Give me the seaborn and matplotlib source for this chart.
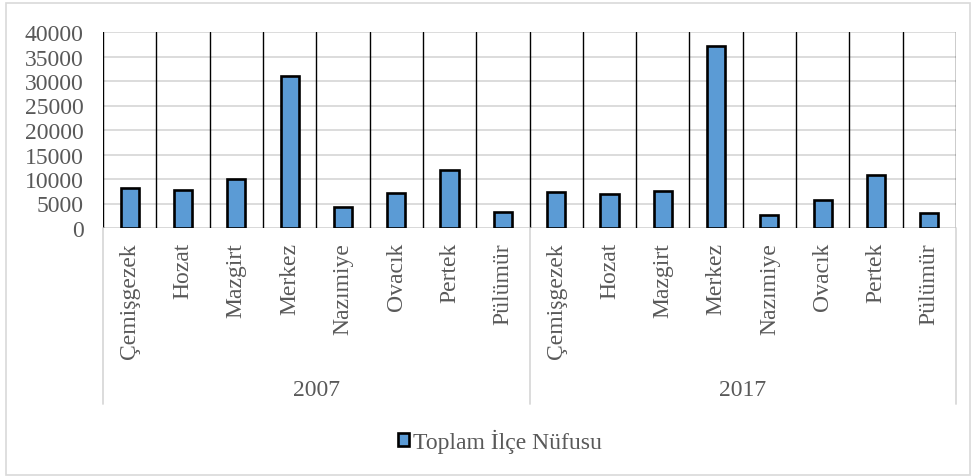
import matplotlib
matplotlib.use("Agg")
import matplotlib.pyplot as plt
import matplotlib.patches as mpatches
import seaborn as sns
import pandas as pd

districts = ["Çemişgezek", "Hozat", "Mazgirt", "Merkez", "Nazımiye", "Ovacık", "Pertek", "Pülümür"]
years = ["2007", "2017"]
pop_2007 = [8100, 7750, 9950, 31100, 4350, 7070, 11770, 3260]
pop_2017 = [7420, 6940, 7620, 37070, 2720, 5780, 10810, 2990]
y_ticks = [0, 5000, 10000, 15000, 20000, 25000, 30000, 35000, 40000]
series_name = "Toplam İlçe Nüfusu"

rows = []
for yr, vals in zip(years, [pop_2007, pop_2017]):
    for d, v in zip(districts, vals):
        rows.append({"key": f"{yr}|{d}", "year": yr, "district": d, "pop": v})
df = pd.DataFrame(rows)
order = list(df["key"])

sns.set_style("white")
plt.rcParams["font.family"] = ["Liberation Serif", "DejaVu Serif"]
TXT = "#595959"
GRID = "#d9d9d9"
FS = 17

fig = plt.figure(figsize=(9.76, 4.77), dpi=100)
ax = fig.add_axes([103 / 976, 1 - 229 / 477, (956 - 103) / 976, (229 - 33) / 477])

sns.barplot(data=df, x="key", y="pop", order=order, color="#5B9BD5", saturation=1,
            edgecolor="black", linewidth=1.9, width=0.34, ax=ax, zorder=3)

n = len(order)
ax.set_xlim(-0.5, n - 0.5)
ax.set_ylim(0, 40000)
ax.set_yticks(y_ticks)
ax.set_yticklabels([str(v) for v in y_ticks])
ax.yaxis.grid(True, color=GRID, lw=1.3, zorder=0)
ax.set_axisbelow(True)
for s in ax.spines.values():
    s.set_visible(False)
ax.axhline(0, color=GRID, lw=1.3, zorder=2)

for k in range(n + 1):
    ax.axvline(k - 0.5, color="black", lw=1.0, zorder=2)

ax.set_xticks(range(n))
ax.set_xticklabels(list(df["district"]), rotation=90, va="top", ha="center")
ax.tick_params(axis="x", length=0, pad=10, labelsize=FS, labelcolor=TXT)
ax.tick_params(axis="y", length=0, pad=14, labelsize=FS, labelcolor=TXT)
ax.set_xlabel("")
ax.set_ylabel("")

# multi-level category separators
ymin = -(405 - 229) / 196
for xv in [-0.5, len(districts) - 0.5, n - 0.5]:
    ax.plot([xv, xv], [0, ymin], transform=ax.get_xaxis_transform(), color=GRID,
            lw=1.3, clip_on=False)

for i, yr in enumerate(years):
    xc = i * len(districts) + (len(districts) - 1) / 2
    ax.text(xc, -(391 - 229) / 196, yr, transform=ax.get_xaxis_transform(),
            ha="center", va="center", fontsize=FS, color=TXT)

handle = mpatches.Patch(facecolor="#5B9BD5", edgecolor="black", linewidth=1.9, label=series_name)
fig.legend(handles=[handle], loc="center", bbox_to_anchor=(500 / 976, 1 - 442 / 477),
           frameon=False, fontsize=FS, labelcolor=TXT, handlelength=0.45, handleheight=0.45,
           handletextpad=0.2)

fig.patches.append(mpatches.Rectangle((6 / 976, 1 / 477), 964 / 976, 472 / 477,
                                      transform=fig.transFigure, fill=False,
                                      edgecolor=GRID, lw=1.2))

fig.savefig("out.png", dpi=100, facecolor="white")
